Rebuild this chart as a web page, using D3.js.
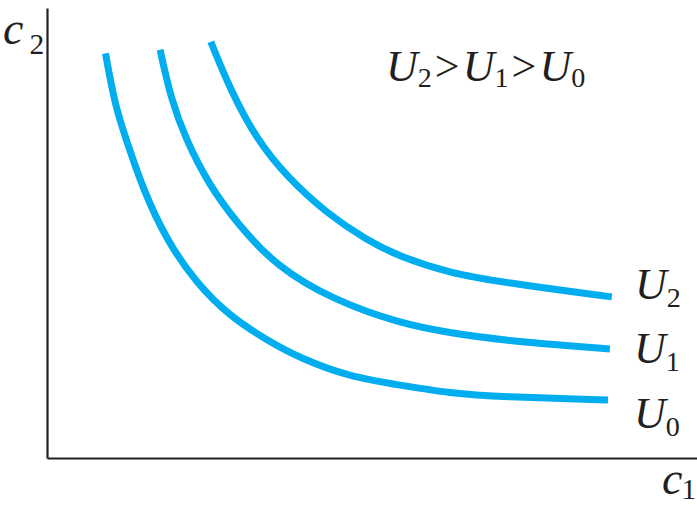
<!DOCTYPE html>
<html>
<head>
<meta charset="utf-8">
<script src="https://cdn.jsdelivr.net/npm/d3@7"></script>
<style>
  html, body { margin: 0; padding: 0; background: #fff; }
  svg { display: block; }
</style>
</head>
<body>
<svg id="chart" width="697" height="506"></svg>
<script>
// Indifference curves: consumption c1 (x) against c2 (y), arbitrary units 0–100
const curveNames = ["U0", "U1", "U2"];
const c1U0 = [9.0, 10.5, 12.2, 14.8, 18.4, 23.0, 28.2, 33.8, 38.9, 46.6, 54.3, 62.0, 69.7, 86.3];
const c2U0 = [89.9, 78.1, 70.7, 59.6, 48.4, 38.8, 31.4, 26.2, 22.2, 18.0, 16.2, 14.4, 13.6, 12.9];
const c1U1 = [17.4, 19.1, 21.4, 24.8, 29.2, 35.3, 44.1, 54.3, 62.0, 69.7, 86.6];
const c2U1 = [90.7, 79.6, 70.7, 61.0, 52.2, 42.5, 35.1, 29.9, 27.8, 26.2, 24.2];
const c1U2 = [25.2, 28.2, 32.3, 36.9, 43.0, 49.2, 54.3, 62.0, 69.7, 86.9];
const c2U2 = [92.5, 81.8, 70.7, 62.5, 54.4, 48.4, 44.7, 41.1, 39.1, 35.8];

const svg = d3.select("#chart");
const margin = { left: 47, right: 0, top: 8, bottom: 48 };
const W = 697, H = 506;
const ink = "#231f20";

const x = d3.scaleLinear().domain([0, 100]).range([margin.left, W - margin.right]);
const y = d3.scaleLinear().domain([0, 100]).range([H - margin.bottom, margin.top]);

// Axes: bare lines, no ticks
const gx = svg.append("g").attr("transform", `translate(0,${y(0)})`)
  .call(d3.axisBottom(x).tickValues([]).tickSizeOuter(0));
const gy = svg.append("g").attr("transform", `translate(${x(0)},0)`)
  .call(d3.axisLeft(y).tickValues([]).tickSizeOuter(0));
[gx, gy].forEach(g => g.select(".domain").attr("stroke", ink).attr("stroke-width", 2.2));

// Curves
const series = [
  { name: curveNames[0], xs: c1U0, ys: c2U0 },
  { name: curveNames[1], xs: c1U1, ys: c2U1 },
  { name: curveNames[2], xs: c1U2, ys: c2U2 }
];
const line = d3.line()
  .x(d => x(d[0]))
  .y(d => y(d[1]))
  .curve(d3.curveBasis);

svg.append("g").selectAll("path")
  .data(series)
  .join("path")
  .attr("d", s => line(s.xs.map((v, i) => [v, s.ys[i]])))
  .attr("fill", "none")
  .attr("stroke", "#00aeef")
  .attr("stroke-width", 7);

// Text layer in a serif face: italic letters, upright subscripts
const labels = svg.append("g").style("font-family", '"Liberation Serif"');

function richText(px, py, parts, size) {
  const t = labels.append("text")
    .attr("x", px).attr("y", py)
    .attr("font-size", size)
    .attr("fill", ink);
  let shift = 0; // baseline offset still applied from a previous subscript
  parts.forEach(p => {
    if (p.sub != null) {
      t.append("tspan").text(p.t)
        .style("font-style", "italic")
        .attr("dx", p.dx || 0)
        .attr("dy", -shift);
      const sd = p.subDy || 6;
      t.append("tspan").text(p.sub)
        .attr("font-size", size * 0.64)
        .attr("dx", p.subDx || 0)
        .attr("dy", sd);
      shift = sd;
    } else {
      t.append("tspan").text(p.t)
        .attr("dx", p.dx || 0)
        .attr("dy", -shift);
      shift = 0;
    }
  });
  return t;
}

// Axis titles
richText(3, 44, [{ t: "c", sub: "2", subDx: 6, subDy: 10 }], 46);
richText(662, 494, [{ t: "c", sub: "1", subDx: -1, subDy: 5 }], 46);

// Curve labels
const labelPos = [[634, 428], [634, 363], [635, 299]];
series.forEach((s, i) => {
  richText(labelPos[i][0], labelPos[i][1], [{ t: "U", sub: s.name.slice(1), subDx: 0, subDy: 8 }], 44);
});

// Ordering statement
richText(386, 81, [
  { t: "U", sub: "2", subDx: 0, subDy: 6 },
  { t: ">", dx: 3 },
  { t: "U", sub: "1", subDx: 0, subDy: 6, dx: 3 },
  { t: ">", dx: 3 },
  { t: "U", sub: "0", subDx: 0, subDy: 6, dx: 3 }
], 44);
</script>
</body>
</html>
